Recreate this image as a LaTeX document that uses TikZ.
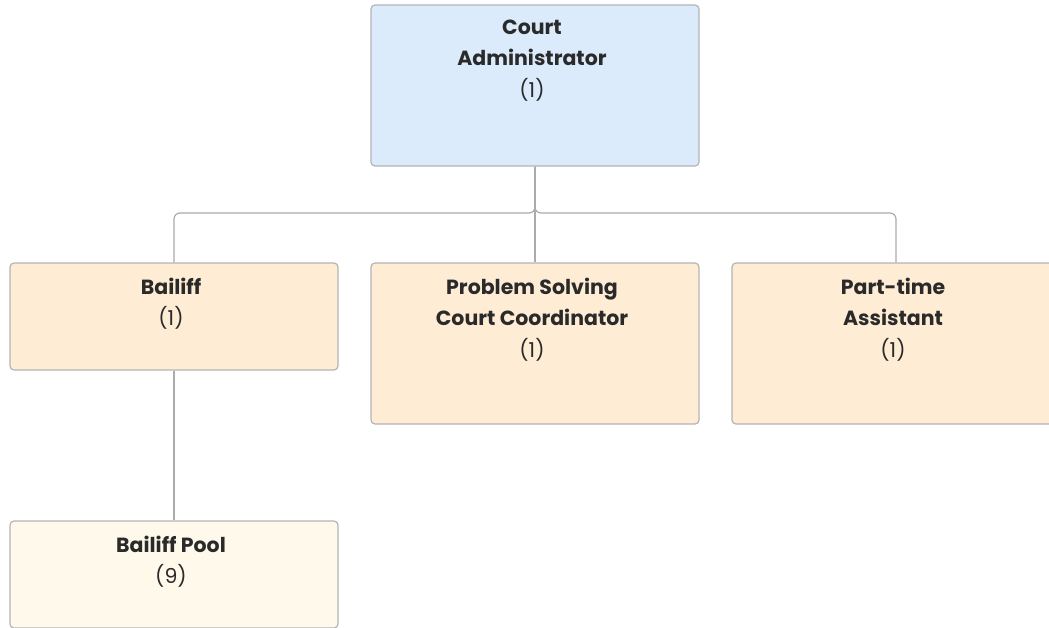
\documentclass[tikz,border=0pt]{standalone}
\usepackage{fontspec}
\setmainfont{Poppins}
\definecolor{bluefill}{HTML}{DBEBFC}
\definecolor{orangefill}{HTML}{FFECD4}
\definecolor{poolfill}{HTML}{FFF9EC}
\definecolor{edge}{HTML}{B4B4B4}
\definecolor{linecol}{HTML}{ABABAB}
\definecolor{txt}{HTML}{2A2A2A}
\tikzset{
  box/.style={draw=edge, line width=1.2pt, rounded corners=4pt, minimum width=328pt, inner sep=0pt},
  lbl/.style={anchor=north, align=center, text=txt, font=\fontsize{20.5}{31.5}\selectfont, inner sep=0pt},
  conn/.style={draw=linecol, line width=1.2pt, rounded corners=6pt},
}
\begin{document}
\begin{tikzpicture}[x=1pt,y=-1pt]
\useasboundingbox (0,0) rectangle (1049,627);
\clip (0,0) rectangle (1049,627);
\node[box, fill=bluefill, minimum height=161pt] (ca) at (535,85.5) {};
\node[box, fill=orangefill, minimum height=107pt] (b) at (174,316.5) {};
\node[box, fill=orangefill, minimum height=161pt] (ps) at (535,343.5) {};
\node[box, fill=orangefill, minimum height=161pt] (pt) at (896,343.5) {};
\node[box, fill=poolfill, minimum height=107pt] (bp) at (174,574.5) {};
\coordinate (split) at (535,213);
\draw[conn] (ca.south) -- (split) -| (b.north);
\draw[conn] (ca.south) -- (split) -| (pt.north);
\draw[conn] (ca.south) -- (ps.north);
\draw[conn] (b.south) -- (bp.north);
\node[lbl] (caT) at ([yshift=-15pt,xshift=-3pt]ca.north) {\textbf{Court}\\\textbf{Administrator}\\(1)};
\node[lbl] (bT) at ([yshift=-15pt,xshift=-3pt]b.north) {\textbf{Bailiff}\\(1)};
\node[lbl] (psT) at ([yshift=-15pt,xshift=-3pt]ps.north) {\textbf{Problem Solving}\\\textbf{Court Coordinator}\\(1)};
\node[lbl] (ptT) at ([yshift=-15pt,xshift=-3pt]pt.north) {\textbf{Part-time}\\\textbf{Assistant}\\(1)};
\node[lbl] (bpT) at ([yshift=-15pt,xshift=-3pt]bp.north) {\textbf{Bailiff Pool}\\(9)};
\end{tikzpicture}
\end{document}
